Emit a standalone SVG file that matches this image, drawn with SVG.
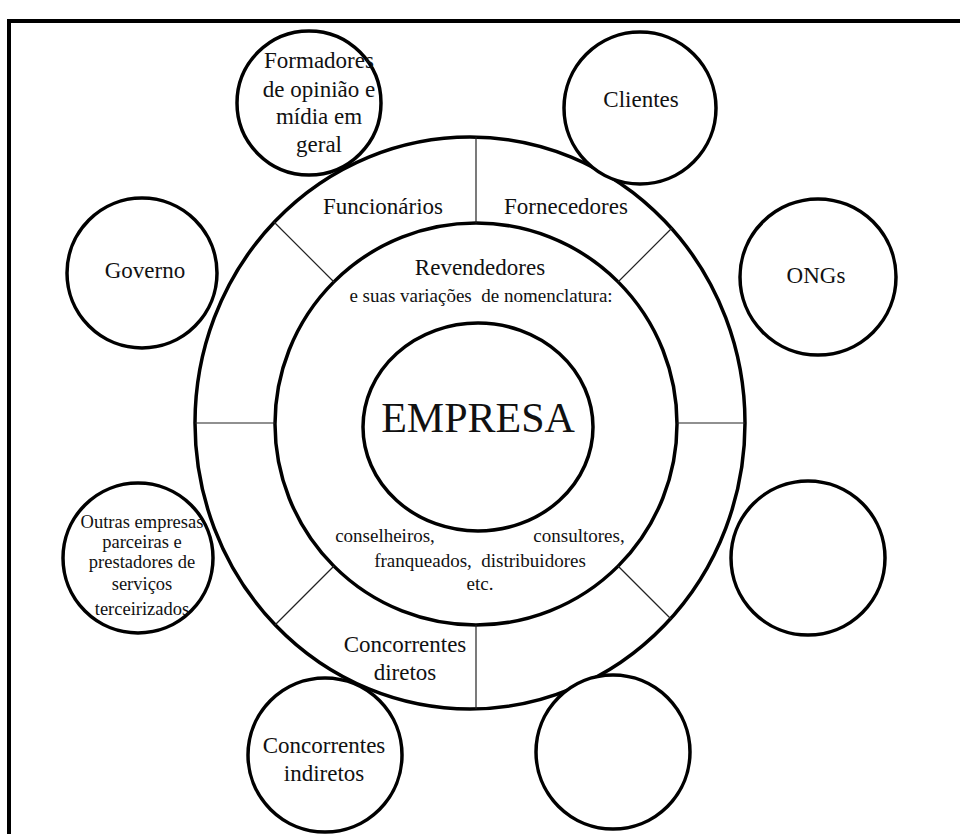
<svg xmlns="http://www.w3.org/2000/svg" width="960" height="834" viewBox="0 0 960 834">
  <style>
    .ring { fill: none; stroke: #000; stroke-width: 3.5; }
    .node { fill: #fff; stroke: #000; stroke-width: 3.5; }
    .div { stroke: #222; stroke-width: 1.2; fill: none; }
    .frame { fill: none; stroke: #000; stroke-width: 4; }
    text { font-family: "Liberation Serif", "Times New Roman", serif; fill: #111; text-anchor: middle; }
    .lg { font-size: 23px; }
    .md { font-size: 19px; white-space: pre; }
    .sm { font-size: 18.5px; }
    .title { font-size: 42px; }
  </style>
  <rect width="960" height="834" fill="#fff"/>

  <!-- page frame: top and left edges only -->
  <path class="frame" d="M9,834 V21 H960"/>

  <!-- concentric rings -->
  <g id="anel-externo">
    <ellipse class="ring" cx="470" cy="423" rx="275" ry="286"/>
  </g>
  <g id="anel-revendedores">
    <circle class="ring" cx="476" cy="424" r="201"/>
  </g>

  <!-- radial dividers between the two rings -->
  <g id="divisores">
    <line class="div" x1="476" y1="137" x2="476" y2="223"/>
    <line class="div" x1="476" y1="625" x2="476" y2="709"/>
    <line class="div" x1="195" y1="423" x2="275" y2="423"/>
    <line class="div" x1="677" y1="423" x2="745" y2="423"/>
    <line class="div" x1="274" y1="222" x2="334" y2="282"/>
    <line class="div" x1="672" y1="228" x2="618" y2="282"/>
    <line class="div" x1="334" y1="566" x2="275" y2="625"/>
    <line class="div" x1="618" y1="566" x2="671" y2="619"/>
  </g>

  <g id="empresa">
    <ellipse class="ring" cx="478" cy="427" rx="115" ry="104"/>
    <text class="title" x="478" y="432">EMPRESA</text>
  </g>

  <!-- labels inside the rings -->
  <g id="funcionarios"><text class="lg" x="383" y="214">Funcionários</text></g>
  <g id="fornecedores"><text class="lg" x="566" y="214">Fornecedores</text></g>
  <g id="revendedores">
    <text class="lg" x="480" y="275">Revendedores</text>
    <text class="md" x="481" y="302">e suas variações  de nomenclatura:</text>
    <text class="md" x="385" y="542">conselheiros,</text>
    <text class="md" x="579" y="542">consultores,</text>
    <text class="md" x="480" y="567">franqueados,  distribuidores</text>
    <text class="md" x="480" y="590">etc.</text>
  </g>
  <g id="concorrentes-diretos">
    <text class="lg" x="405" y="652">Concorrentes</text>
    <text class="lg" x="405" y="680">diretos</text>
  </g>

  <!-- surrounding stakeholder circles -->
  <g id="formadores">
    <circle class="node" cx="309" cy="103" r="72"/>
    <text class="lg" x="319" y="68">Formadores</text>
    <text class="lg" x="319" y="97">de opinião e</text>
    <text class="lg" x="319" y="124">mídia em</text>
    <text class="lg" x="319" y="152">geral</text>
  </g>
  <g id="clientes">
    <circle class="node" cx="640" cy="108" r="76"/>
    <text class="lg" x="641" y="107">Clientes</text>
  </g>
  <g id="governo">
    <circle class="node" cx="142" cy="273" r="75"/>
    <text class="lg" x="145" y="278">Governo</text>
  </g>
  <g id="ongs">
    <circle class="node" cx="818" cy="277" r="78"/>
    <text class="lg" x="816" y="283">ONGs</text>
  </g>
  <g id="outras-empresas">
    <circle class="node" cx="138" cy="558" r="75"/>
    <text class="sm" x="142" y="528">Outras empresas</text>
    <text class="sm" x="142" y="548">parceiras e</text>
    <text class="sm" x="142" y="568">prestadores de</text>
    <text class="sm" x="142" y="590">serviços</text>
    <text class="sm" x="142" y="615">terceirizados</text>
  </g>
  <g id="vazio-direita">
    <circle class="node" cx="808" cy="558" r="77"/>
  </g>
  <g id="concorrentes-indiretos">
    <circle class="node" cx="325" cy="755" r="77"/>
    <text class="lg" x="324" y="753">Concorrentes</text>
    <text class="lg" x="324" y="781">indiretos</text>
  </g>
  <g id="vazio-baixo">
    <circle class="node" cx="613" cy="752" r="77"/>
  </g>
</svg>
